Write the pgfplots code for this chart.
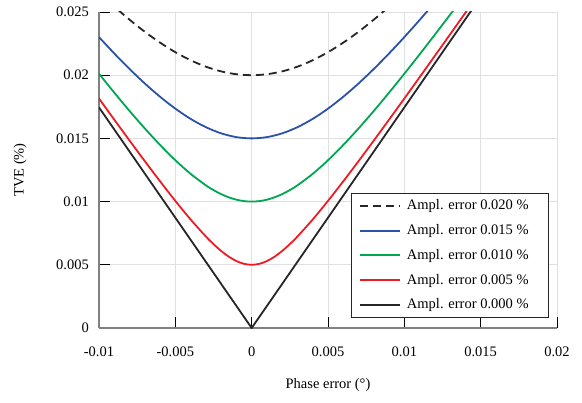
\documentclass[border=0pt]{standalone}
\usepackage{fontspec}
\setmainfont{Liberation Serif}
\usepackage{pgfplots}
\pgfplotsset{compat=1.18}

\definecolor{cblue}{RGB}{42,82,168}
\definecolor{cgreen}{RGB}{0,166,81}
\definecolor{cred}{RGB}{237,28,36}

\newcommand{\legtxt}[1]{Ampl. error #1 \%\hspace*{10pt}}

\begin{document}
\fontsize{14.5}{17}\selectfont
\begin{tikzpicture}
\begin{axis}[
    scale only axis,
    width=458pt, height=316pt,
    xmin=-0.01, xmax=0.02,
    ymin=0, ymax=0.025,
    xtick={-0.01,-0.005,0,0.005,0.01,0.015,0.02},
    xticklabels={-0.01,-0.005,0,0.005,0.01,0.015,0.02},
    ytick={0,0.005,0.01,0.015,0.02,0.025},
    yticklabels={0,0.005,0.01,0.015,0.02,0.025},
    scaled ticks=false,
    axis x line*=bottom, axis y line*=left,
    axis line style={black!50, line width=1.2pt},
    tick align=inside,
    major tick length=11pt,
    tick style={black, line width=0.8pt},
    grid=major,
    grid style={black!12, line width=0.6pt},
    xticklabel style={anchor=center, yshift=-24pt},
    yticklabel style={anchor=east, inner sep=0pt, xshift=-10pt},
    xlabel={Phase error (°)},
    ylabel={TVE (\%)},
    x label style={at={(axis description cs:0.5,-0.18)}, anchor=center},
    y label style={at={(axis description cs:-0.172,0.5)}, anchor=center},
    legend cell align=left,
    legend style={at={(0.9825,0.032)}, anchor=south east,
        draw=black!85, line width=0.8pt, fill=white,
        row sep=8.5pt, column sep=4pt, inner xsep=8pt, inner ysep=4.5pt},
    legend image code/.code={\draw[#1] (0pt,0pt) -- (40pt,0pt);},
    every axis plot/.append style={line width=1.8pt},
]
% Ampl. error 0.020 %
\addplot[black!85, dash pattern=on 8pt off 5pt, smooth] coordinates {
(-0.010,0.026545) (-0.009,0.025431) (-0.008,0.024392) (-0.007,0.023436)
(-0.006,0.022576) (-0.005,0.021821) (-0.004,0.021183) (-0.003,0.020674)
(-0.002,0.020302) (-0.001,0.020076) (0,0.020000) (0.001,0.020076)
(0.002,0.020302) (0.003,0.020674) (0.004,0.021183) (0.005,0.021821)
(0.006,0.022576) (0.007,0.023436) (0.008,0.024392) (0.009,0.025431)
(0.010,0.026545)};
% Ampl. error 0.015 %
\addplot[cblue, smooth] coordinates {
(-0.010,0.023013) (-0.009,0.021720) (-0.008,0.020493) (-0.007,0.019346)
(-0.006,0.018294) (-0.005,0.017354) (-0.004,0.016545) (-0.003,0.015888)
(-0.002,0.015401) (-0.001,0.015101) (0,0.015000) (0.001,0.015101)
(0.002,0.015401) (0.003,0.015888) (0.004,0.016545) (0.005,0.017354)
(0.006,0.018294) (0.007,0.019346) (0.008,0.020493) (0.009,0.021720)
(0.010,0.023013) (0.011,0.024364) (0.012,0.025761)};
% Ampl. error 0.010 %
\addplot[cgreen, smooth] coordinates {
(-0.010,0.020115) (-0.009,0.018621) (-0.008,0.017174) (-0.007,0.015788)
(-0.006,0.014480) (-0.005,0.013272) (-0.004,0.012196) (-0.003,0.011288)
(-0.0025,0.010911) (-0.002,0.010592) (-0.0015,0.010337) (-0.001,0.010151)
(-0.0005,0.010038) (0,0.010000) (0.0005,0.010038) (0.001,0.010151)
(0.0015,0.010337) (0.002,0.010592) (0.0025,0.010911) (0.003,0.011288)
(0.004,0.012196) (0.005,0.013272) (0.006,0.014480) (0.007,0.015788)
(0.008,0.017174) (0.009,0.018621) (0.010,0.020115) (0.011,0.021647)
(0.012,0.023209) (0.013,0.024795) (0.014,0.026402)};
% Ampl. error 0.005 %
\addplot[cred, smooth] coordinates {
(-0.010,0.018155) (-0.009,0.016485) (-0.008,0.014831) (-0.007,0.013201)
(-0.006,0.011604) (-0.005,0.010058) (-0.004,0.008587) (-0.003,0.007240)
(-0.0025,0.006636) (-0.002,0.006098) (-0.0015,0.005644) (-0.001,0.005296)
(-0.0005,0.005076) (0,0.005000) (0.0005,0.005076) (0.001,0.005296)
(0.0015,0.005644) (0.002,0.006098) (0.0025,0.006636) (0.003,0.007240)
(0.004,0.008587) (0.005,0.010058) (0.006,0.011604) (0.007,0.013201)
(0.008,0.014831) (0.009,0.016485) (0.010,0.018155) (0.011,0.019839)
(0.012,0.021533) (0.013,0.023234) (0.014,0.024941) (0.015,0.026653)};
% Ampl. error 0.000 %
\addplot[black!85] coordinates {
(-0.010,0.017453) (0,0) (0.015,0.026180)};
\legend{\legtxt{0.020},\legtxt{0.015},\legtxt{0.010},\legtxt{0.005},\legtxt{0.000}}
\end{axis}
\path ([shift={(-99pt,-75pt)}]current axis.south west) rectangle ([shift={(25pt,12pt)}]current axis.north east);
\end{tikzpicture}
\end{document}
